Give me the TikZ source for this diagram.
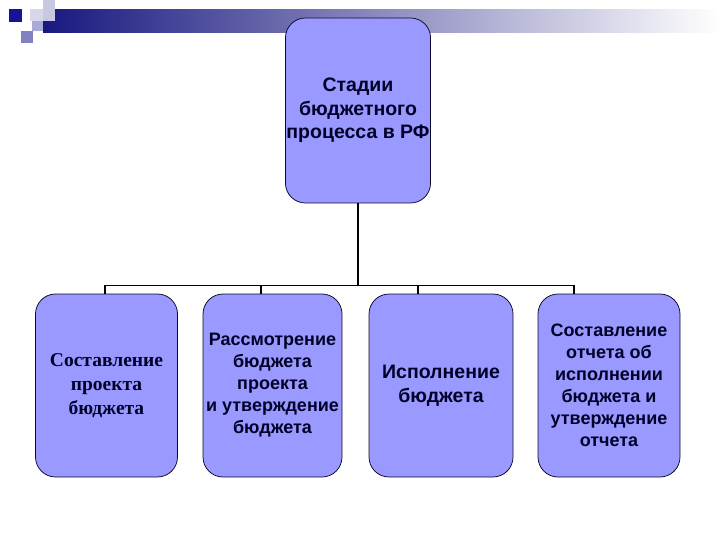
\documentclass[tikz,border=0pt]{standalone}
\usepackage{fontspec}
\setmainfont{Liberation Sans}
\newfontfamily\serifcyr{Liberation Serif}
\usetikzlibrary{calc}

\definecolor{stagefill}{RGB}{153,153,255}
\definecolor{stageline}{RGB}{10,10,40}
\definecolor{stagetext}{RGB}{0,0,40}
\definecolor{barnavy}{RGB}{24,24,128}

\tikzset{every picture/.style={line width=0.75pt}}
\tikzset{
  stagebox/.style={draw=stageline, fill=stagefill, rounded corners=20pt,
    minimum width=142pt, minimum height=183pt, align=center, inner sep=1pt,
    text=stagetext, font=\bfseries\fontsize{18}{22}\selectfont},
  bigtext/.style={font=\bfseries\fontsize{19.5}{23.5}\selectfont},
  link/.style={draw=black, line width=1.5pt}
}

\begin{document}
\begin{tikzpicture}[x=1pt,y=1pt,yscale=-1]
\useasboundingbox (0,0) rectangle (720,540);

%Title bar with gradient
\shade [left color=barnavy, right color=white, shading angle=90] (43,10) rectangle (720,33);
%Small squares at the corner
\fill [color={rgb,255:red,200;green,200;blue,225}] (43,0) rectangle (55,21);
\fill [color={rgb,255:red,215;green,215;blue,235}] (30,9) rectangle (43,21);
\fill [color={rgb,255:red,170;green,170;blue,215}] (32,21) rectangle (43,31);
\fill [color={rgb,255:red,20;green,20;blue,150}] (9,9) rectangle (22,22);
\fill [color={rgb,255:red,130;green,130;blue,195}] (21,31) rectangle (33,43);

%Top box
\node [stagebox, bigtext, minimum width=144pt, minimum height=185pt] (top) at (358,110.5) {Стадии\\бюджетного\\процесса в РФ};

%Stage boxes
\node [stagebox, font=\serifcyr\bfseries\fontsize{19.5}{24}\selectfont] (plan) at (106.5,385.5) {Составление\\проекта\\бюджета};
\node [stagebox, minimum width=139pt] (review) at (272.5,385.5) {Рассмотрение\\бюджета\\проекта\\и утверждение\\бюджета};
\node [stagebox, bigtext, minimum width=144pt] (exec) at (441,385.5) {Исполнение\\бюджета};
\node [stagebox] (report) at (609,385.5) {Составление\\отчета об\\исполнении\\бюджета и\\утверждение\\отчета};

%Connectors
\draw [link] (top.south) -- ++(0,82) coordinate (bus);
\draw [link] ([xshift=-1.5pt]plan.north) |- (bus);
\draw [link] ([xshift=-11.5pt]review.north) |- (bus);
\draw [link] ([xshift=-23pt]exec.north) |- (bus);
\draw [link] ([xshift=-35pt]report.north) |- (bus);

\end{tikzpicture}
\end{document}
